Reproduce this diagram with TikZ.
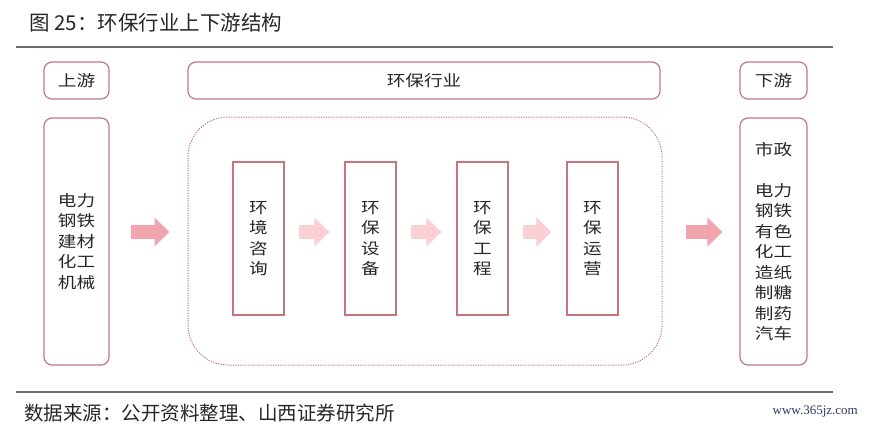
\documentclass[tikz,border=0pt]{standalone}
\usepackage{fontspec}
\usetikzlibrary{arrows.meta}
\newfontfamily\cjk[FakeStretch=1.2]{Noto Sans CJK SC}
\newfontfamily\cjkhead{Noto Sans CJK SC}
\newfontfamily\webfont{Liberation Serif}
\definecolor{hbred}{RGB}{196,118,124}
\definecolor{hbpink}{RGB}{242,165,175}
\definecolor{hblight}{RGB}{250,208,212}
\definecolor{hbgray}{RGB}{110,110,110}
\definecolor{hbblue}{RGB}{45,55,100}

\begin{document}
\begin{tikzpicture}[x=1pt,y=-1pt,
  boxtext/.style={font=\cjk\fontsize{15.5}{20.5}\selectfont,text=black!85,align=center,inner sep=0pt},
  rbox/.style={boxtext,draw=hbred,line width=1.2pt,rounded corners=8pt},
  sbox/.style={boxtext,draw=hbred,line width=1.2pt,minimum width=51pt,minimum height=153pt},
  fatarrow/.style={line width=14pt,-{Triangle[length=15pt,width=28pt]}}]
\useasboundingbox (0,0) rectangle (870,432);

% Title and rules
\node[anchor=west,inner sep=0pt,font=\cjkhead\fontsize{20.5}{20.5}\selectfont,text=black!85] (title) at (29,23) {图 25：环保行业上下游结构};
\draw[hbgray,line width=1.5pt] (16,47) -- (833,47);
\draw[hbgray,line width=1.5pt] (16,392) -- (833,392);

% Header boxes
\node[rbox,minimum width=65pt,minimum height=37pt] (uphead) at (76.5,80.5) {上游};
\node[rbox,minimum width=472pt,minimum height=37pt] (midhead) at (424,80.5) {环保行业};
\node[rbox,minimum width=67pt,minimum height=37pt] (downhead) at (773.5,80.5) {下游};

% Upstream and downstream
\node[rbox,minimum width=65pt,minimum height=247pt] (upbox) at (76.5,241.5) {电力\\钢铁\\建材\\化工\\机械};
\node[rbox,minimum width=67pt,minimum height=247pt] (downbox) at (773.5,241.5) {市政\\[20.5pt]电力\\钢铁\\有色\\化工\\造纸\\制糖\\制药\\汽车};

% Industry chain
\node[draw=hbred,line width=1pt,dash pattern=on 1.2pt off 1.3pt,rounded corners=40pt,minimum width=474pt,minimum height=248pt] (midbox) at (425,241) {};
\node[sbox] (consult) at (258.5,238.5) {环\\境\\咨\\询};
\node[sbox] (equip) at (370.5,238.5) {环\\保\\设\\备};
\node[sbox] (project) at (482.5,238.5) {环\\保\\工\\程};
\node[sbox] (operate) at (592.5,238.5) {环\\保\\运\\营};

% Arrows
\coordinate (row) at (0,232);
\draw[fatarrow,hbpink,shorten <=21pt,shorten >=18pt] (upbox.east |- row) -- (midbox.west |- row);
\draw[fatarrow,hblight,shorten <=14pt,shorten >=15pt] (consult.east |- row) -- (equip.west |- row);
\draw[fatarrow,hblight,shorten <=14pt,shorten >=15pt] (equip.east |- row) -- (project.west |- row);
\draw[fatarrow,hblight,shorten <=14pt,shorten >=15pt] (project.east |- row) -- (operate.west |- row);
\draw[fatarrow,hbpink,shorten <=23pt,shorten >=17pt] (midbox.east |- row) -- (downbox.west |- row);

% Source
\node[anchor=west,inner sep=0pt,font=\cjkhead\fontsize{19.5}{19.5}\selectfont,text=black!85] (source) at (24,413) {数据来源：公开资料整理、山西证券研究所};
\node[anchor=east,inner sep=0pt,font=\webfont\fontsize{13}{13}\selectfont,text=hbblue] (site) at (858,412) {www.365jz.com};
\end{tikzpicture}
\end{document}
